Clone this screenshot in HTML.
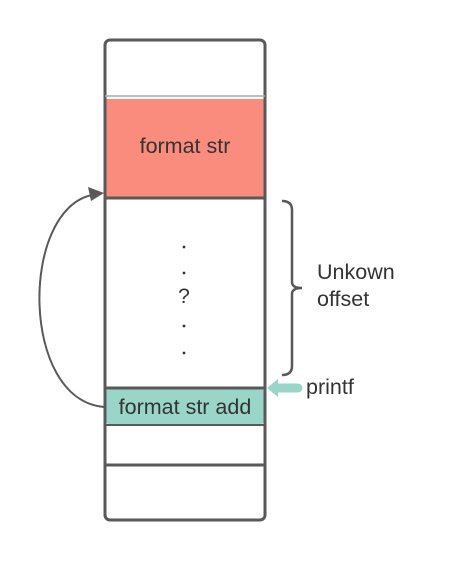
<!DOCTYPE html>
<html><head><style>
body{margin:0;background:#fff;width:466px;height:560px;overflow:hidden}
svg text{font-family:"Liberation Sans",sans-serif;fill:#333}
</style></head><body>
<svg width="466" height="560">
<rect x="106" y="99" width="158" height="99" fill="#fa8c7e"/>
<rect x="106" y="389" width="158" height="35" rx="3" fill="#9ad5c9"/>
<rect x="105" y="40" width="160" height="480" rx="5" fill="none" stroke="#595959" stroke-width="3"/>
<g stroke="#595959" stroke-width="3">
<line x1="105" y1="96" x2="265" y2="96" stroke="#aaa" stroke-width="1.5"/>
<line x1="105" y1="198" x2="265" y2="198"/>
<line x1="105" y1="388" x2="265" y2="388"/>
<line x1="105" y1="425" x2="265" y2="425" stroke-width="2"/>
<line x1="105" y1="465" x2="265" y2="465"/>
</g>
<text x="185" y="153" font-size="21.5" text-anchor="middle">format str</text>
<text x="185" y="414" font-size="21.5" text-anchor="middle">format str add</text>
<g fill="#333">
<circle cx="184" cy="247" r="1.4"/><circle cx="184" cy="273" r="1.4"/>
<circle cx="184" cy="326" r="1.4"/><circle cx="184" cy="353" r="1.4"/>
</g>
<text x="184" y="303" font-size="21" text-anchor="middle">?</text>
<path d="M282,201 Q292,201 292,210 L292,282 Q292,288 302,288 Q292,288 292,294 L292,366 Q292,375 282,375" fill="none" stroke="#595959" stroke-width="2.5"/>
<text x="317" y="279" font-size="21.5">Unkown</text>
<text x="317" y="306" font-size="21.5">offset</text>
<path d="M104,407 C20,400 20,210 92,195" fill="none" stroke="#595959" stroke-width="2"/>
<polygon points="104,193 88,187 91,201" fill="#595959"/>
<path d="M276,388 L298,388" stroke="#9ad5c9" stroke-width="9" stroke-linecap="round"/>
<polygon points="267,388 278,379 278,397" fill="#9ad5c9"/>
<text x="306" y="394" font-size="21.5">printf</text>
</svg>
</body></html>
